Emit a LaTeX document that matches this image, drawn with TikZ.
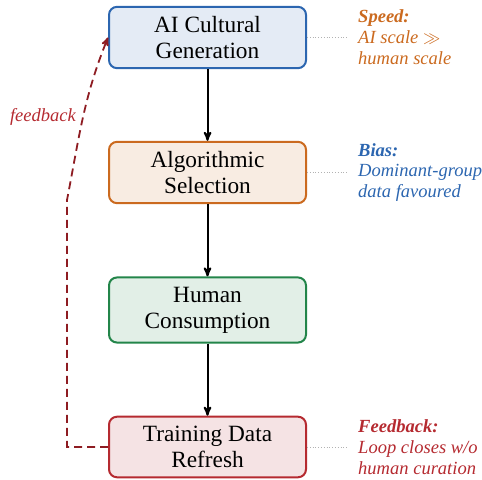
\documentclass[tikz,border=0pt]{standalone}
\usepackage{fontspec}
\setmainfont{Liberation Serif}
\usepackage{tikz}
\usetikzlibrary{shapes,arrows,calc}
\definecolor{genblue}{HTML}{2C66B0}
\definecolor{selorange}{HTML}{CB6A1F}
\definecolor{congreen}{HTML}{23854A}
\definecolor{trainred}{HTML}{B52A30}
\definecolor{loopred}{HTML}{8E1C22}
\tikzstyle{stage} = [draw, rounded corners=8bp, line width=2bp, minimum width=197bp,
  align=center, inner sep=9.5bp, font=\fontsize{23.4}{26}\selectfont]
\tikzstyle{flow} = [draw=black, -stealth', line width=2bp]
\tikzstyle{link} = [draw, dotted, gray!60, line width=0.8bp]
\tikzstyle{note} = [anchor=west, align=left, inner sep=10bp,
  font=\fontsize{18.6}{21}\selectfont\itshape]

\begin{document}
\begin{tikzpicture}[x=1bp, y=1bp]
      \useasboundingbox (0,0) rectangle (482,480);

      \node (gen) at (207.5, 442.5) [stage, draw=genblue, fill=genblue!13] {AI Cultural\\Generation};
      \node (sel) at (207.5, 307.5) [stage, draw=selorange, fill=selorange!13] {Algorithmic\\Selection};
      \node (con) at (207.5, 170.0) [stage, draw=congreen, fill=congreen!13] {Human\\Consumption};
      \node (train) at (207.5, 33.0) [stage, draw=trainred, fill=trainred!13] {Training Data\\Refresh};

      \draw[flow] (gen.south) -- (sel.north);
      \draw[flow] (sel.south) -- (con.north);
      \draw[flow] (con.south) -- (train.north);

      \node (speed) at ($(gen.east)+(41,0)$) [note, text=selorange]
        {\textbf{Speed:}\\AI scale $\gg$\\human scale};
      \node (bias) at ($(sel.east)+(41,0)$) [note, text=genblue]
        {\textbf{Bias:}\\Dominant-group\\data favoured};
      \node (fback) at ($(train.east)+(41,0)$) [note, text=trainred]
        {\textbf{Feedback:}\\Loop closes w/o\\human curation};

      \path[link] (gen.east) -- (speed.west);
      \path[link] (sel.east) -- (bias.west);
      \path[link] (train.east) -- (fback.west);

      % loop back to generation
      \coordinate (turn) at (67, 280);
      \draw[loopred, line width=1.8bp, dash pattern=on 8bp off 5bp, -stealth']
        (train.west) -| (turn) to[out=79, in=-112] (gen.west);
      \node (fblabel) at (43, 363) [text=trainred, font=\fontsize{18.6}{21}\selectfont\itshape] {feedback};
\end{tikzpicture}
\end{document}
